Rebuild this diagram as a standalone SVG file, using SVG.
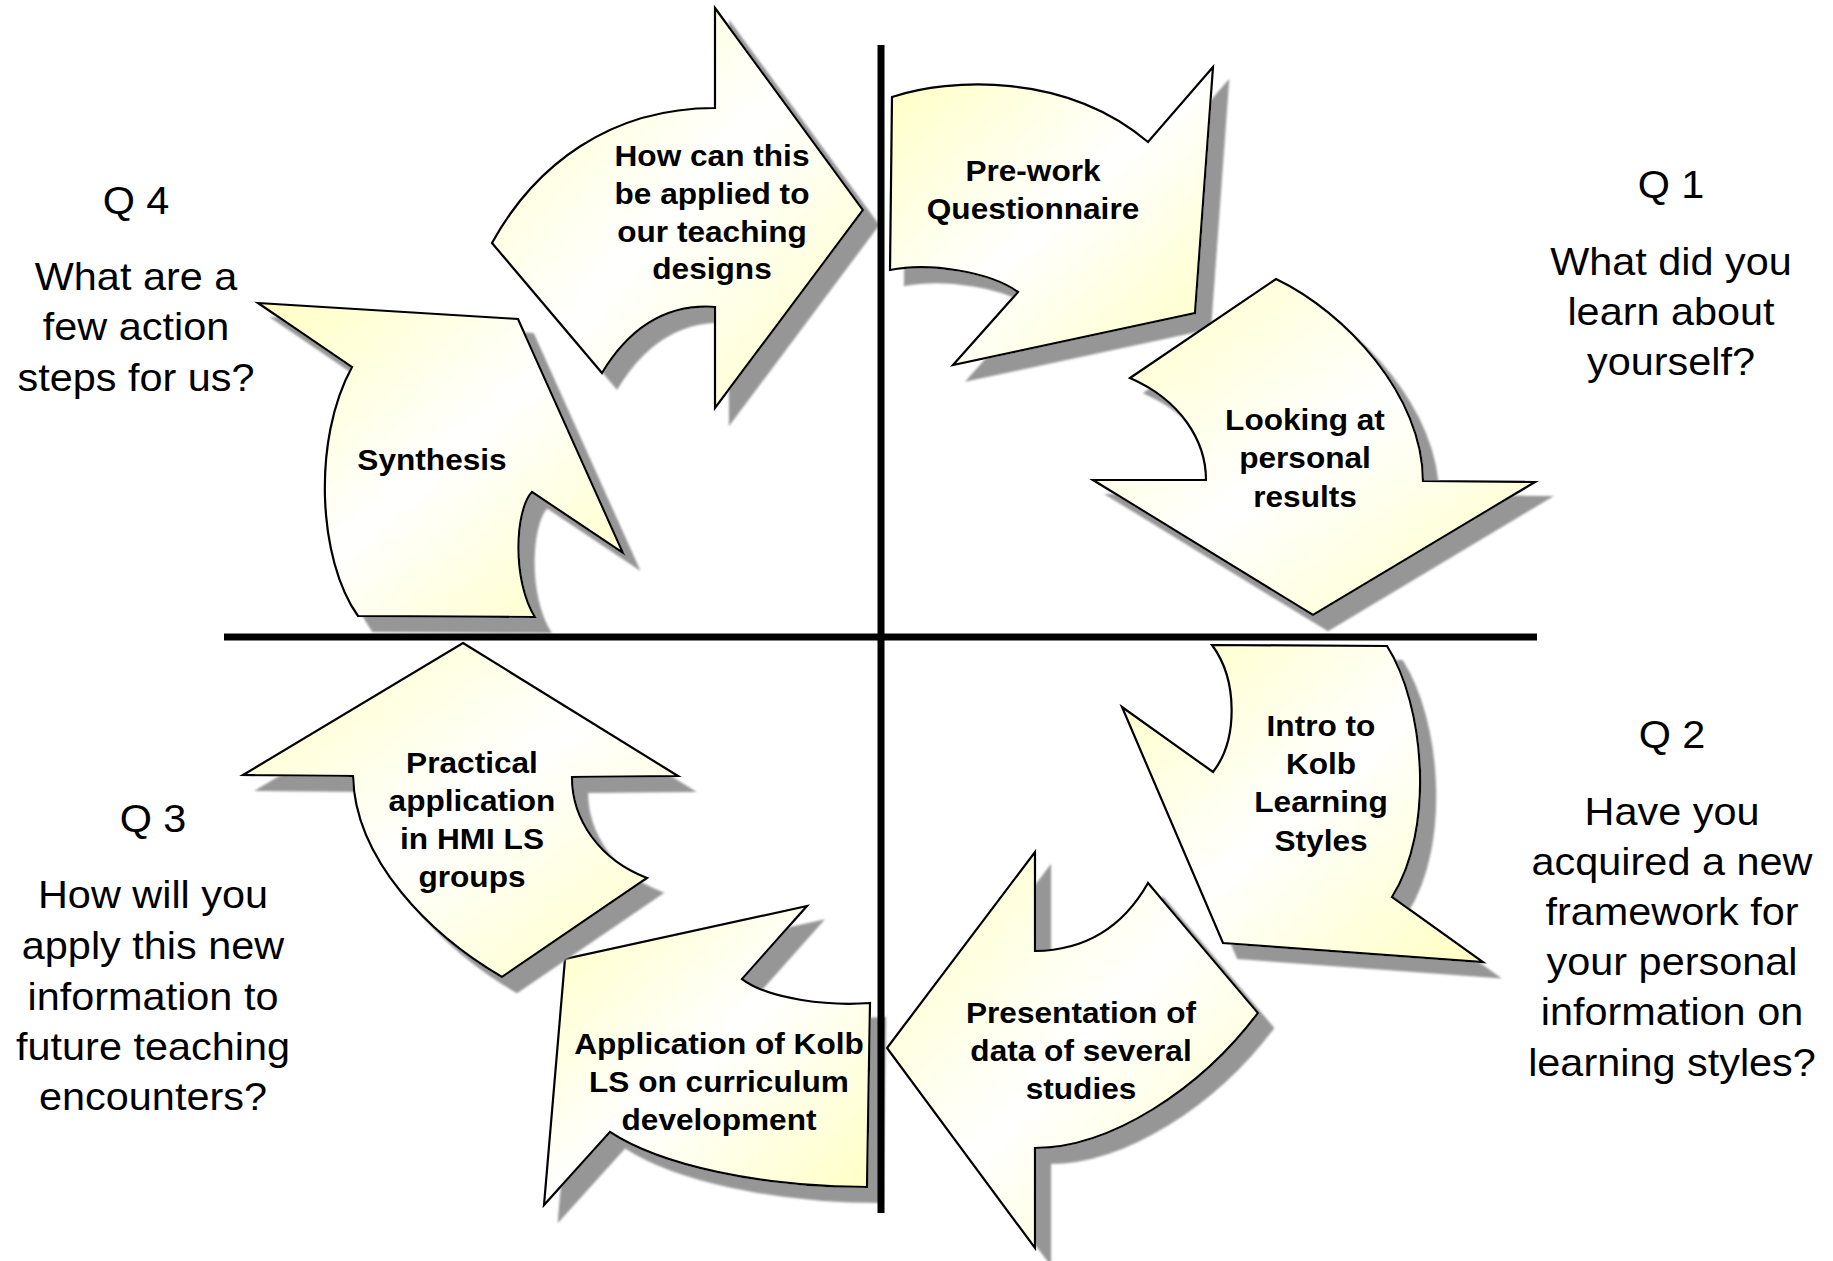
<svg xmlns="http://www.w3.org/2000/svg" width="1833" height="1261" viewBox="0 0 1833 1261">
<defs>
<linearGradient id="fillg" x1="0" y1="0" x2="1" y2="1">
<stop offset="0" stop-color="#FFFFC2"/>
<stop offset="0.5" stop-color="#FFFFFF"/>
<stop offset="1" stop-color="#FFFFC2"/>
</linearGradient>
<filter id="shadow" x="-10%" y="-10%" width="130%" height="130%">
<feDropShadow dx="15" dy="15" stdDeviation="1" flood-color="#969696" flood-opacity="1"/>
</filter>
<style>
.arrow{fill:url(#fillg);stroke:#000;stroke-width:2.2;stroke-linejoin:miter;filter:url(#shadow);}
.lbl{font-family:"Liberation Sans",Arial,sans-serif;font-weight:bold;font-size:29px;fill:#000;text-anchor:middle;}
.q{font-family:"Liberation Sans",Arial,sans-serif;font-size:38px;fill:#000;text-anchor:middle;}
.axis{stroke:#000;stroke-width:7;fill:none;}
</style>
</defs>
<rect width="1833" height="1261" fill="#FFFFFF"/>

<g id="node-howcan">
<path class="arrow" d="M715,8 L863,210 L715,408 L715,307 Q645,302 602,373 L492,243 C535,165 610,108 715,108 Z"/>
<g transform="translate(712 0) scale(1.09 1)"><text class="lbl"><tspan x="0" y="166">How can this</tspan><tspan x="0" y="204">be applied to</tspan><tspan x="0" y="242">our teaching</tspan><tspan x="0" y="279">designs</tspan></text></g>
</g>

<g id="node-prework">
<path class="arrow" d="M892,97 C950,78 1065,72 1148,142 L1213,67 L1195,313 L953,365 L1018,292 C990,272 930,262 890,270 Z"/>
<g transform="translate(1033 0) scale(1.09 1)"><text class="lbl"><tspan x="0" y="181">Pre-work</tspan><tspan x="0" y="219">Questionnaire</tspan></text></g>
</g>

<g id="node-looking">
<path class="arrow" d="M1130,378 L1276,279 C1345,312 1423,395 1423,481 L1535,482 L1313,615 L1093,480 L1206,480 C1206,440 1180,400 1130,378 Z"/>
<g transform="translate(1305 0) scale(1.09 1)"><text class="lbl"><tspan x="0" y="430">Looking at</tspan><tspan x="0" y="468">personal</tspan><tspan x="0" y="507">results</tspan></text></g>
</g>

<g id="node-intro">
<path class="arrow" d="M1212,645 L1387,646 C1425,705 1435,830 1392,897 L1483,962 L1223,943 L1122,707 L1213,772 C1238,740 1238,680 1212,645 Z"/>
<g transform="translate(1321 0) scale(1.09 1)"><text class="lbl"><tspan x="0" y="736">Intro to</tspan><tspan x="0" y="774">Kolb</tspan><tspan x="0" y="812">Learning</tspan><tspan x="0" y="851">Styles</tspan></text></g>
</g>

<g id="node-presentation">
<path class="arrow" d="M1035,852 L1035,951 Q1110,950 1148,883 L1258,1013 C1200,1090 1110,1148 1035,1148 L1035,1248 L887,1048 Z"/>
<g transform="translate(1081 0) scale(1.09 1)"><text class="lbl"><tspan x="0" y="1023">Presentation of</tspan><tspan x="0" y="1061">data of several</tspan><tspan x="0" y="1099">studies</tspan></text></g>
</g>

<g id="node-application">
<path class="arrow" d="M807,906 L565,959 L544,1205 L610,1132 C660,1165 760,1187 867,1187 L870,1003 C830,1006 770,1000 742,979 Z"/>
<g transform="translate(719 0) scale(1.09 1)"><text class="lbl"><tspan x="0" y="1054">Application of Kolb</tspan><tspan x="0" y="1092">LS on curriculum</tspan><tspan x="0" y="1130">development</tspan></text></g>
</g>

<g id="node-practical">
<path class="arrow" d="M463,643 L678,776 L572,777 C572,820 600,860 647,878 L502,977 C430,935 355,860 353,776 L243,775 Z"/>
<g transform="translate(472 0) scale(1.09 1)"><text class="lbl"><tspan x="0" y="773">Practical</tspan><tspan x="0" y="811">application</tspan><tspan x="0" y="849">in HMI LS</tspan><tspan x="0" y="887">groups</tspan></text></g>
</g>

<g id="node-synthesis">
<path class="arrow" d="M258,303 L518,319 L623,553 L532,492 C515,510 512,580 535,617 L358,616 C318,560 312,440 352,367 Z"/>
<g transform="translate(432 0) scale(1.09 1)"><text class="lbl"><tspan x="0" y="470">Synthesis</tspan></text></g>
</g>

<g id="connectors">
<line class="axis" x1="881" y1="45" x2="881" y2="1213"/>
<line class="axis" x1="224" y1="637" x2="1537" y2="637"/>
</g>

<g id="q1">
<g transform="translate(1671 0) scale(1.09 1)"><text class="q"><tspan x="0" y="198">Q 1</tspan><tspan x="0" y="275">What did you</tspan><tspan x="0" y="325">learn about</tspan><tspan x="0" y="375">yourself?</tspan></text></g>
</g>
<g id="q2">
<g transform="translate(1672 0) scale(1.09 1)"><text class="q"><tspan x="0" y="748">Q 2</tspan><tspan x="0" y="825">Have you</tspan><tspan x="0" y="875">acquired a new</tspan><tspan x="0" y="925">framework for</tspan><tspan x="0" y="975">your personal</tspan><tspan x="0" y="1025">information on</tspan><tspan x="0" y="1076">learning styles?</tspan></text></g>
</g>
<g id="q3">
<g transform="translate(153 0) scale(1.09 1)"><text class="q"><tspan x="0" y="832">Q 3</tspan><tspan x="0" y="908">How will you</tspan><tspan x="0" y="959">apply this new</tspan><tspan x="0" y="1010">information to</tspan><tspan x="0" y="1060">future teaching</tspan><tspan x="0" y="1110">encounters?</tspan></text></g>
</g>
<g id="q4">
<g transform="translate(136 0) scale(1.09 1)"><text class="q"><tspan x="0" y="214">Q 4</tspan><tspan x="0" y="290">What are a</tspan><tspan x="0" y="340">few action</tspan><tspan x="0" y="391">steps for us?</tspan></text></g>
</g>
</svg>
